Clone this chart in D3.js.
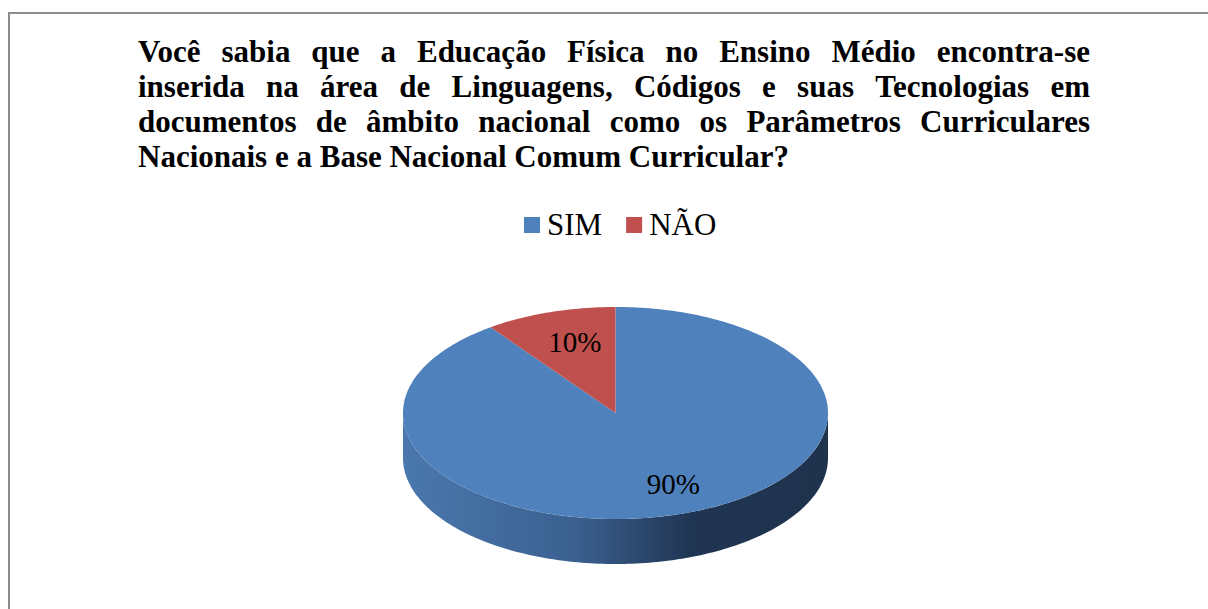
<!DOCTYPE html>
<html>
<head>
<meta charset="utf-8">
<script src="https://cdn.jsdelivr.net/npm/d3@7"></script>
<style>
  body { margin: 0; background: #fff; }
</style>
</head>
<body>
<svg id="chart" width="1208" height="609"></svg>
<script>
// dados do gráfico
var categorias = ["SIM", "NÃO"];
var valores = [90, 10];
var cores = ["#4f81bd", "#c0504d"];
var tituloLinhas = [
  "Você sabia que a Educação Física no Ensino Médio encontra-se",
  "inserida na área de Linguagens, Códigos e suas Tecnologias em",
  "documentos de âmbito nacional como os Parâmetros Curriculares",
  "Nacionais e a Base Nacional Comum Curricular?"
];

var FONTE = "Liberation Serif";

var svg = d3.select("#chart");
var width = +svg.attr("width");
var height = +svg.attr("height");

// moldura
svg.append("rect")
  .attr("x", 9).attr("y", 13)
  .attr("width", width + 20).attr("height", height + 20)
  .attr("fill", "none")
  .attr("stroke", "#8c8c8c")
  .attr("stroke-width", 2);

// titulo justificado
var tLeft = 138, tRight = 1090, tTop = 62, tLine = 35;
var titulo = svg.append("g");

tituloLinhas.forEach(function(linha, i) {
  var words = linha.split(" ");
  var y = tTop + i * tLine;
  var nodes = words.map(function(w) {
    return titulo.append("text")
      .attr("y", y)
      .style("font-family", FONTE)
      .style("font-weight", "bold")
      .style("font-size", "31px")
      .attr("fill", "#000")
      .text(w);
  });
  var widths = nodes.map(function(n) { return n.node().getComputedTextLength(); });
  var total = d3.sum(widths);
  var gap;
  if (i < tituloLinhas.length - 1) {
    gap = (tRight - tLeft - total) / (words.length - 1);
  } else {
    gap = 7.75; // ultima linha sem justificar
  }
  var x = tLeft;
  nodes.forEach(function(n, k) {
    n.attr("x", x);
    x += widths[k] + gap;
  });
});

// legenda
var legenda = svg.append("g");
var lx = 524;
categorias.forEach(function(c, i) {
  var item = legenda.append("g").attr("transform", "translate(" + lx + ",0)");
  item.append("rect")
    .attr("x", 0).attr("y", 217)
    .attr("width", 16).attr("height", 16)
    .attr("fill", cores[i]);
  var t = item.append("text")
    .attr("x", 23).attr("y", 235)
    .style("font-family", FONTE)
    .style("font-size", "31px")
    .text(c);
  lx += 23 + t.node().getComputedTextLength() + 24;
});

// pizza 3D
var cx = 615.5, cy = 413, rx = 212.5, ry = 106, depth = 45;

var pie = d3.pie().sort(null).startAngle(0).endAngle(2 * Math.PI);
var arcs = pie(valores);

function px(a, r) { return cx + rx * (r == null ? 1 : r) * Math.sin(a); }
function py(a, r) { return cy - ry * (r == null ? 1 : r) * Math.cos(a); }

function ellArc(a0, a1, dy) {
  // arco da elipse de a0 ate a1 (sentido horario), em segmentos
  var n = Math.max(2, Math.ceil(Math.abs(a1 - a0) / 0.02));
  var pts = [];
  for (var k = 0; k <= n; k++) {
    var a = a0 + (a1 - a0) * k / n;
    pts.push([px(a), py(a) + (dy || 0)]);
  }
  return pts;
}

var defs = svg.append("defs");
var grad = defs.append("linearGradient")
  .attr("id", "lado")
  .attr("gradientUnits", "userSpaceOnUse")
  .attr("x1", cx - rx).attr("y1", 0)
  .attr("x2", cx + rx).attr("y2", 0);
grad.append("stop").attr("offset", "0%").attr("stop-color", "#4a78ad");
grad.append("stop").attr("offset", "40%").attr("stop-color", "#3b6190");
grad.append("stop").attr("offset", "68%").attr("stop-color", "#203553");
grad.append("stop").attr("offset", "100%").attr("stop-color", "#1f334d");

var line = d3.line();

// lados visiveis (frente: entre 90 e 270 graus)
var gLado = svg.append("g");
arcs.forEach(function(d) {
  var a0 = Math.max(d.startAngle, Math.PI / 2);
  var a1 = Math.min(d.endAngle, 3 * Math.PI / 2);
  if (a1 <= a0) return;
  var top = ellArc(a0, a1, 0);
  var bot = ellArc(a1, a0, depth);
  gLado.append("path")
    .attr("d", line(top.concat(bot)) + "Z")
    .attr("fill", "url(#lado)");
});

// faces superiores
var gTopo = svg.append("g");
arcs.forEach(function(d, i) {
  var pts = [[cx, cy]].concat(ellArc(d.startAngle, d.endAngle, 0));
  gTopo.append("path")
    .attr("d", line(pts) + "Z")
    .attr("fill", cores[i]);
});

// rotulos
var fmt = d3.format(".0%");
var total = d3.sum(valores);
svg.append("g")
  .selectAll("text")
  .data(arcs)
  .enter()
  .append("text")
  .attr("text-anchor", "middle")
  .style("font-family", FONTE)
  .style("font-size", "29px")
  .attr("x", function(d) {
    var m = (d.startAngle + d.endAngle) / 2;
    return px(m, d.index == 0 ? 0.88 : 0.62);
  })
  .attr("y", function(d) {
    var m = (d.startAngle + d.endAngle) / 2;
    return py(m, 0.7) + 10;
  })
  .text(function(d) { return fmt(d.value / total); });
</script>
</body>
</html>
